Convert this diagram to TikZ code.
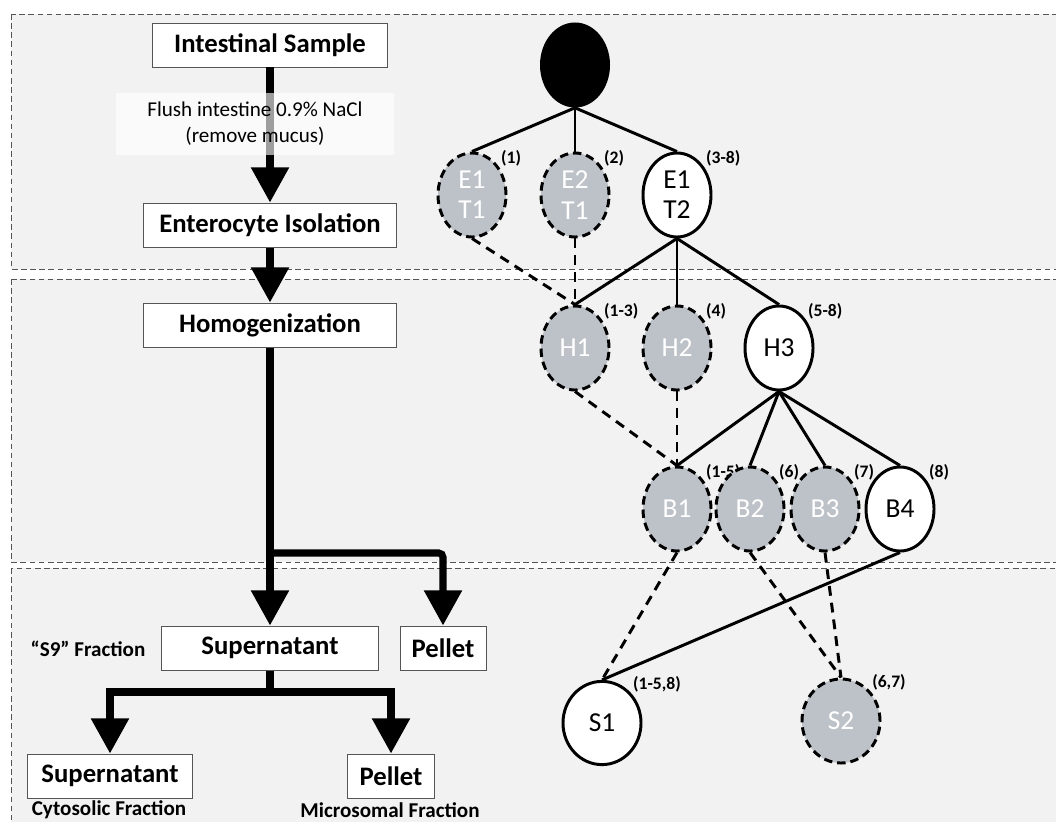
\documentclass[tikz,border=0pt]{standalone}
\usepackage{fontspec}
\setmainfont{Carlito}
\usetikzlibrary{arrows.meta,shapes.geometric}
\definecolor{bandgray}{HTML}{F2F2F2}
\definecolor{fracgray}{HTML}{BDC1C8}
\definecolor{edgegray}{HTML}{555555}

\begin{document}
\begin{tikzpicture}[x=0.025cm,y=-0.025cm,
    stepbox/.style={draw=edgegray,line width=0.7pt,fill=white,minimum height=1.1cm,inner sep=0pt,
      font=\fontsize{19}{22}\selectfont\bfseries},
    flow/.style={line width=5pt,-{Triangle[width=26pt,length=25pt]}},
    frac/.style={ellipse,minimum width=1.7cm,minimum height=2.1cm,inner sep=0pt,line width=2.1pt,
      align=center,font=\fontsize{19.5}{21.5}\selectfont},
    kept/.style={frac,draw,fill=white},
    lost/.style={frac,draw,dash pattern=on 6pt off 3.5pt,fill=fracgray,text=white},
    tag/.style={font=\fontsize{12.5}{14}\selectfont\bfseries,inner sep=1pt},
    edge/.style={line width=2.1pt},
    drop/.style={line width=2.1pt,dash pattern=on 7pt off 5pt},
    note/.style={font=\fontsize{15}{17}\selectfont\bfseries}]

  \useasboundingbox (0,0) rectangle (1056,821);
  % bands
  \foreach \top/\bot in {14/269,279/562,568/840}{
    \draw[edgegray,dash pattern=on 4pt off 2.5pt,line width=0.7pt,fill=bandgray] (11,\top) rectangle (1070,\bot);
  }

  % preparation steps
  \node[stepbox,minimum width=5.85cm] (sample) at (270,45) {Intestinal Sample};
  \node[stepbox,minimum width=6.3cm] (entero) at (270,225) {Enterocyte Isolation};
  \node[stepbox,minimum width=6.3cm] (homog) at (270,325) {Homogenization};
  \node[stepbox,minimum width=5.4cm] (super) at (270,648) {Supernatant};
  \node[stepbox,minimum width=2.15cm] (pellet) at (443,648) {Pellet};
  \node[stepbox,minimum width=4.125cm] (cyto) at (110,776) {Supernatant};
  \node[stepbox,minimum width=2.175cm] (micro) at (391,776) {Pellet};
  \node[note] (s9) at (88,649) {“S9” Fraction};
  \node[note] (cytolbl) at (109,810) {Cytosolic Fraction};
  \node[note] (microlbl) at (390,810) {Microsomal Fraction};

  \draw[flow] (sample) -- (entero);
  \node[fill=white,fill opacity=0.62,text opacity=1,minimum width=6.925cm,minimum height=1.55cm,
    align=center,font=\fontsize{15}{18.5}\selectfont] (flush) at (255,124) {Flush intestine 0.9\% NaCl\\(remove mucus)};
  \draw[flow] (entero) -- (homog);
  \draw[flow] (homog) -- (super);
  \coordinate (split) at (270,553);
  \draw[flow,rounded corners=3pt] (split) -| (pellet);
  \coordinate (split2) at (270,692);
  \draw[line width=5pt] (super) -- (split2);
  \draw[flow] (split2) -| (cyto);
  \draw[flow] (split2) -| (micro);

  % fraction tree
  \node[ellipse,fill=black,minimum width=1.75cm,minimum height=2.125cm] (root) at (575,65) {};
  \node[lost,label={[tag]45:(1)}] (e1t1) at (472,195) {E1\\T1};
  \node[lost,label={[tag]45:(2)}] (e2t1) at (575,195) {E2\\T1};
  \node[kept,label={[tag]45:(3-8)}] (e1t2) at (677,195) {E1\\T2};
  \node[lost,label={[tag]45:(1-3)}] (h1) at (575,348) {H1};
  \node[lost,label={[tag]45:(4)}] (h2) at (677,348) {H2};
  \node[kept,label={[tag]45:(5-8)}] (h3) at (779,348) {H3};
  \node[lost,label={[tag]45:(1-5)}] (b1) at (677,509) {B1};
  \node[lost,label={[tag]45:(6)}] (b2) at (750,509) {B2};
  \node[lost,label={[tag]45:(7)}] (b3) at (825,509) {B3};
  \node[kept,label={[tag]45:(8)}] (b4) at (900,509) {B4};
  \node[kept,minimum width=1.95cm,minimum height=2.08cm,label={[tag]45:(1-5,8)}] (s1) at (602,723) {S1};
  \node[lost,minimum width=1.95cm,label={[tag]45:(6,7)}] (s2) at (841,721) {S2};

  \foreach \a/\b in {root/e1t1,root/e2t1,root/e1t2,e1t2/h1,e1t2/h2,e1t2/h3,
      h3/b1,h3/b2,h3/b3,h3/b4,b4/s1}
    \draw[edge] (\a.south) -- (\b.north);
  \foreach \a/\b in {e1t1/h1,e2t1/h1,h1/b1,h2/b1,b1/s1,b2/s2,b3/s2}
    \draw[drop] (\a.south) -- (\b.north);
\end{tikzpicture}
\end{document}
